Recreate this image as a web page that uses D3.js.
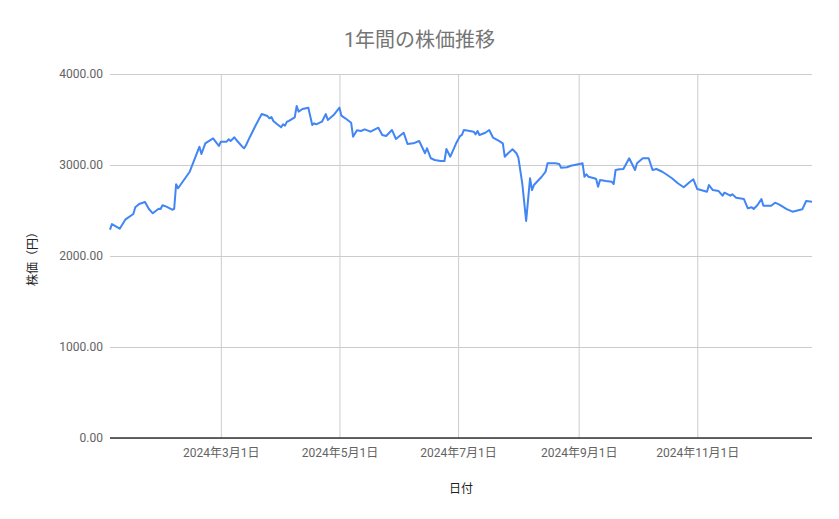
<!DOCTYPE html>
<html>
<head>
<meta charset="utf-8">
<title>1年間の株価推移</title>
<script src="https://d3js.org/d3.v7.min.js"></script>
<style>
  body { margin: 0; background: #fff; }
  text { font-family: Roboto, "Noto Sans CJK JP", sans-serif; }
</style>
</head>
<body>
<div id="chart"></div>
<script>
// data
const dates = [
  "2024-01-04","2024-01-05","2024-01-09","2024-01-12","2024-01-16","2024-01-17","2024-01-19","2024-01-22",
  "2024-01-24","2024-01-26","2024-01-29","2024-01-30","2024-01-31","2024-02-02","2024-02-05","2024-02-06",
  "2024-02-07","2024-02-08","2024-02-14","2024-02-16","2024-02-19","2024-02-20","2024-02-22","2024-02-26",
  "2024-02-29","2024-03-01","2024-03-04","2024-03-05","2024-03-06","2024-03-08","2024-03-09","2024-03-12",
  "2024-03-13","2024-03-14","2024-03-16","2024-03-19","2024-03-22","2024-03-25","2024-03-26","2024-03-27",
  "2024-03-28","2024-03-30","2024-04-01","2024-04-02","2024-04-03","2024-04-04","2024-04-05","2024-04-08",
  "2024-04-09","2024-04-10","2024-04-12","2024-04-15","2024-04-17","2024-04-18","2024-04-19","2024-04-22",
  "2024-04-24","2024-04-25","2024-04-28","2024-05-01","2024-05-02","2024-05-04","2024-05-07","2024-05-08",
  "2024-05-10","2024-05-12","2024-05-14","2024-05-17","2024-05-21","2024-05-23","2024-05-25","2024-05-28",
  "2024-05-30","2024-06-03","2024-06-05","2024-06-08","2024-06-11","2024-06-14","2024-06-15","2024-06-17",
  "2024-06-19","2024-06-22","2024-06-24","2024-06-25","2024-06-27","2024-06-30","2024-07-02","2024-07-03",
  "2024-07-04","2024-07-07","2024-07-09","2024-07-10","2024-07-11","2024-07-12","2024-07-15","2024-07-17",
  "2024-07-19","2024-07-22","2024-07-24","2024-07-25","2024-07-27","2024-07-29","2024-07-31","2024-08-01",
  "2024-08-03","2024-08-05","2024-08-07","2024-08-08","2024-08-09","2024-08-13","2024-08-15","2024-08-16",
  "2024-08-20","2024-08-22","2024-08-23","2024-08-26","2024-08-28","2024-09-02","2024-09-03","2024-09-04",
  "2024-09-05","2024-09-06","2024-09-09","2024-09-10","2024-09-11","2024-09-12","2024-09-15","2024-09-18",
  "2024-09-19","2024-09-20","2024-09-22","2024-09-24","2024-09-27","2024-09-30","2024-10-01","2024-10-04",
  "2024-10-07","2024-10-09","2024-10-11","2024-10-14","2024-10-16","2024-10-19","2024-10-22","2024-10-25",
  "2024-10-28","2024-10-30","2024-11-01","2024-11-06","2024-11-07","2024-11-09","2024-11-12","2024-11-14",
  "2024-11-15","2024-11-18","2024-11-19","2024-11-21","2024-11-25","2024-11-27","2024-11-29","2024-11-30",
  "2024-12-02","2024-12-04","2024-12-05","2024-12-09","2024-12-11","2024-12-13","2024-12-17","2024-12-20",
  "2024-12-25","2024-12-27","2024-12-30"
];
const prices = [
  2290,2350,2300,2403,2462,2535,2571,2593,
  2516,2469,2520,2516,2557,2542,2509,2516,
  2788,2744,2926,3036,3201,3121,3238,3293,
  3209,3256,3256,3282,3264,3304,3275,3201,
  3184,3220,3311,3440,3560,3538,3513,3527,
  3484,3447,3414,3447,3432,3476,3484,3524,
  3648,3586,3615,3630,3440,3458,3447,3476,
  3560,3495,3549,3630,3542,3513,3465,3311,
  3381,3374,3392,3366,3410,3330,3319,3385,
  3286,3355,3231,3238,3264,3129,3184,3074,
  3055,3044,3044,3176,3091,3238,3318,3330,
  3385,3374,3366,3337,3374,3330,3355,3385,
  3300,3264,3238,3091,3135,3173,3129,3080,
  2799,2385,2854,2725,2780,2871,2926,3019,
  3019,3011,2970,2975,2992,3014,3019,2871,
  2898,2871,2854,2846,2761,2835,2824,2817,
  2791,2945,2953,2956,3074,2945,3019,3074,
  3074,2945,2956,2926,2898,2854,2799,2755,
  2810,2843,2736,2707,2780,2725,2714,2663,
  2696,2663,2678,2641,2626,2524,2535,2516,
  2560,2626,2553,2553,2586,2568,2516,2487,
  2513,2604,2597
];
const xTicks = ["2024-03-01","2024-05-01","2024-07-01","2024-09-01","2024-11-01"];
const yTicks = [0, 1000, 2000, 3000, 4000];

const W = 839, H = 519;
const margin = {top: 74, right: 27, bottom: 81, left: 110};
const parse = d3.timeParse("%Y-%m-%d");
const data = dates.map((d, i) => ({date: parse(d), value: prices[i]}));

const svg = d3.select("#chart").append("svg")
  .attr("width", W).attr("height", H);

const x = d3.scaleTime()
  .domain(d3.extent(data, d => d.date))
  .range([margin.left, W - margin.right]);
const y = d3.scaleLinear()
  .domain([0, 4000])
  .range([H - margin.bottom, margin.top]);

// horizontal grid + y labels
const yAxis = svg.append("g")
  .attr("transform", `translate(${margin.left},0)`)
  .call(d3.axisLeft(y).tickValues(yTicks).tickFormat(d3.format(".2f"))
    .tickSize(-(W - margin.left - margin.right)).tickPadding(7));
yAxis.select(".domain").remove();
yAxis.selectAll("line").attr("stroke", "#cccccc");
yAxis.selectAll("text").attr("fill", "#636363").style("font-size", "12px");

// vertical grid + x labels
const xAxis = svg.append("g")
  .attr("transform", `translate(0,${H - margin.bottom})`)
  .call(d3.axisBottom(x).tickValues(xTicks.map(parse))
    .tickFormat(d3.timeFormat("%Y年%-m月%-d日"))
    .tickSize(-(H - margin.top - margin.bottom)).tickPadding(10));
xAxis.select(".domain").remove();
xAxis.selectAll("line").attr("stroke", "#cccccc");
xAxis.selectAll("text").attr("fill", "#636363").style("font-size", "12px");

// baseline at zero
svg.append("line")
  .attr("x1", margin.left).attr("x2", W - margin.right)
  .attr("y1", y(0)).attr("y2", y(0))
  .attr("stroke", "#333").attr("stroke-width", 1.3);

// price line
svg.append("path")
  .datum(data)
  .attr("fill", "none")
  .attr("stroke", "#4285f4")
  .attr("stroke-width", 2)
  .attr("stroke-linejoin", "round")
  .attr("d", d3.line().x(d => x(d.date)).y(d => y(d.value)));

// title and axis titles
svg.append("text")
  .attr("x", W / 2).attr("y", 47)
  .attr("text-anchor", "middle")
  .attr("fill", "#757575")
  .style("font-size", "20px")
  .text("1年間の株価推移");

svg.append("text")
  .attr("x", (margin.left + W - margin.right) / 2).attr("y", 493)
  .attr("text-anchor", "middle")
  .attr("fill", "#222")
  .style("font-size", "12px")
  .text("日付");

svg.append("text")
  .attr("transform", `translate(37,${(margin.top + H - margin.bottom) / 2}) rotate(-90)`)
  .attr("text-anchor", "middle")
  .attr("fill", "#222")
  .style("font-size", "12px")
  .text("株価（円）");
</script>
</body>
</html>
